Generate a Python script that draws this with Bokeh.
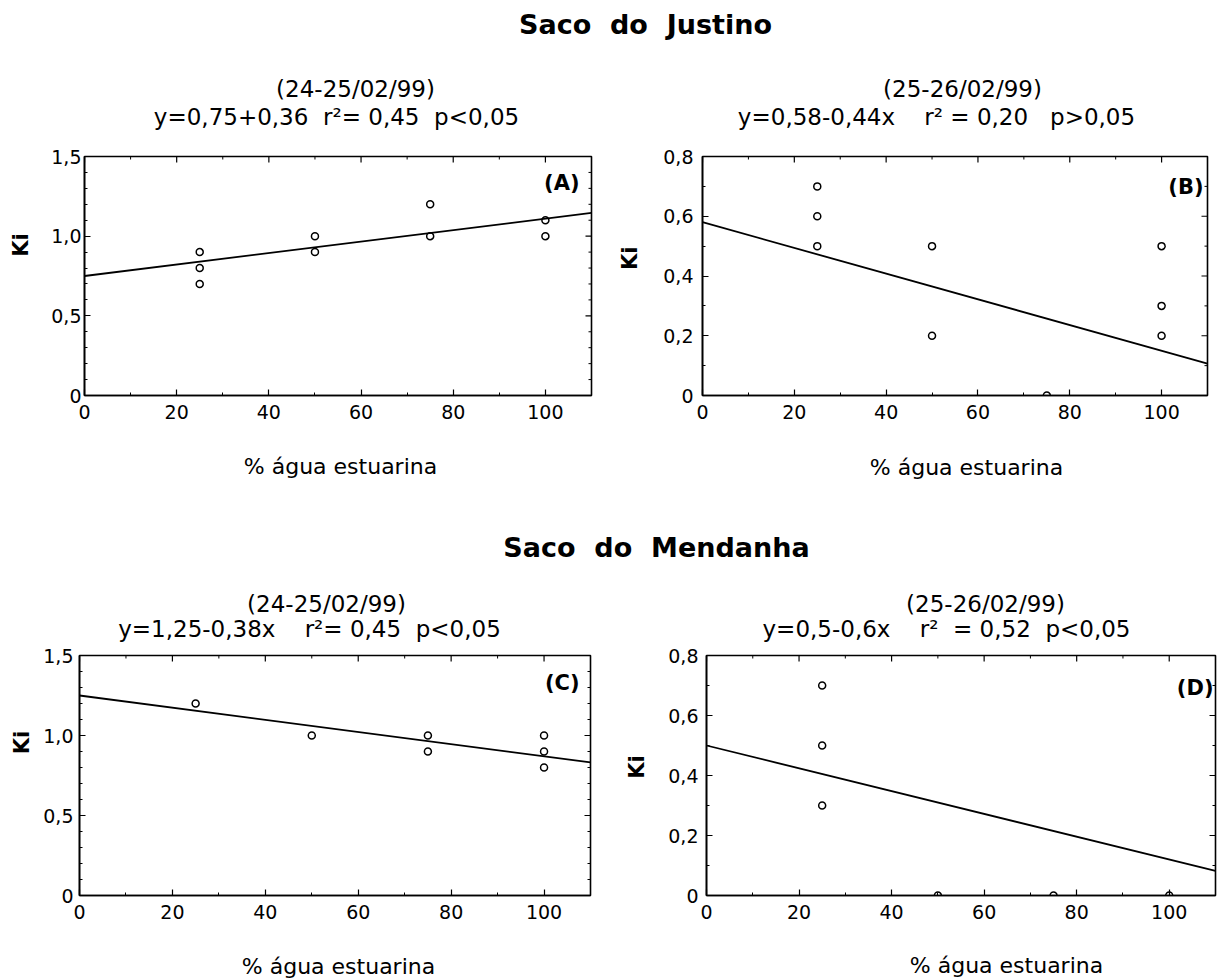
import math
from bokeh.plotting import figure
from bokeh.models import Range1d, FixedTicker, Label, CustomJSTickFormatter
from bokeh.layouts import column, row
from bokeh.embed import file_html
from bokeh.resources import INLINE

NB = "\u00a0"
FONT = "DejaVu Sans"

# ---------------- data ----------------
site_titles = ["Saco" + NB * 2 + "do" + NB * 2 + "Justino", "Saco" + NB * 2 + "do" + NB * 2 + "Mendanha"]
dates = ["(24-25/02/99)", "(25-26/02/99)", "(24-25/02/99)", "(25-26/02/99)"]
equations = [
    "y=0,75+0,36" + NB * 2 + "r²=" + NB + "0,45" + NB * 2 + "p<0,05",
    "y=0,58-0,44x" + NB * 4 + "r²" + NB + "=" + NB + "0,20" + NB * 3 + "p>0,05",
    "y=1,25-0,38x" + NB * 4 + "r²=" + NB + "0,45" + NB * 2 + "p<0,05",
    "y=0,5-0,6x" + NB * 4 + "r²" + NB * 2 + "=" + NB + "0,52" + NB * 2 + "p<0,05",
]
panel_tags = ["(A)", "(B)", "(C)", "(D)"]
x_title = "% água estuarina"
y_title = "Ki"

pct_A = [25, 25, 25, 50, 50, 75, 75, 100, 100]
ki_A = [0.9, 0.8, 0.7, 1.0, 0.9, 1.2, 1.0, 1.1, 1.0]
pct_B = [25, 25, 25, 50, 50, 75, 100, 100, 100]
ki_B = [0.7, 0.6, 0.5, 0.5, 0.2, 0.0, 0.5, 0.3, 0.2]
pct_C = [25, 50, 75, 75, 100, 100, 100]
ki_C = [1.2, 1.0, 1.0, 0.9, 1.0, 0.9, 0.8]
pct_D = [25, 25, 25, 50, 75, 100]
ki_D = [0.7, 0.5, 0.3, 0.0, 0.0, 0.0]

fit_intercept = [0.75, 0.58, 1.25, 0.50]
fit_slope = [0.0036, -0.0043, -0.0038, -0.0038]

x_ticks = [0, 20, 40, 60, 80, 100]
x_minor = [10, 30, 50, 70, 90, 110]
y_ticks_a = [0, 0.5, 1.0, 1.5]
y_minor_a = [0.1, 0.2, 0.3, 0.4, 0.6, 0.7, 0.8, 0.9, 1.1, 1.2, 1.3, 1.4]
y_ticks_b = [0, 0.2, 0.4, 0.6, 0.8]
y_minor_b = [0.1, 0.3, 0.5, 0.7]
x_max = 110

comma_fmt = CustomJSTickFormatter(code="""
    if (Math.abs(tick) < 1e-9) { return "0"; }
    return tick.toFixed(1).replace(".", ",");
""")


def style_axis(ax, standoff):
    ax.axis_line_color = "black"
    ax.axis_line_width = 1.6
    ax.major_tick_line_color = "black"
    ax.minor_tick_line_color = "black"
    ax.major_tick_line_width = 1.2
    ax.minor_tick_line_width = 1.0
    ax.major_tick_in = 6
    ax.major_tick_out = 0
    ax.minor_tick_in = 3
    ax.minor_tick_out = 0
    ax.major_label_text_font = FONT
    ax.major_label_text_color = "black"
    ax.major_label_text_font_size = "19px"
    ax.major_label_standoff = standoff


def text_fig(width, height):
    p = figure(width=width, height=height, x_range=Range1d(0, width), y_range=Range1d(0, height),
               output_backend="svg", toolbar_location=None, x_axis_type=None, y_axis_type=None,
               min_border=0)
    p.outline_line_color = None
    p.grid.visible = False
    return p


def put(p, text, x, y_from_top, size, bold=False, angle=0.0):
    p.add_layout(Label(x=x, y=p.y_range.end - y_from_top, text=text, text_font=FONT,
                       text_font_size=size, text_font_style="bold" if bold else "normal",
                       text_color="black", text_align="center", text_baseline="middle",
                       angle=angle))


def panel(i, xs, ys, ymax, yticks, yminor, width, height, borders, ystandoff, tag_pos):
    mbl, mbr, mbt, mbb = borders
    p = figure(width=width, height=height, x_range=Range1d(0, x_max), y_range=Range1d(0, ymax),
               output_backend="svg", toolbar_location=None,
               min_border_left=mbl, min_border_right=mbr, min_border_top=mbt, min_border_bottom=mbb)
    p.grid.visible = False
    p.outline_line_color = "black"
    p.outline_line_width = 1.6
    p.xaxis.ticker = FixedTicker(ticks=x_ticks, minor_ticks=x_ticks + x_minor)
    p.yaxis.ticker = FixedTicker(ticks=yticks, minor_ticks=yticks + yminor)
    p.yaxis.formatter = comma_fmt
    style_axis(p.xaxis[0], 9)
    style_axis(p.yaxis[0], ystandoff)

    # mirrored inward ticks on top and right edges (half of each dash is clipped by the frame)
    p.scatter(x_ticks, [ymax] * len(x_ticks), marker="dash", size=12, angle=math.pi / 2,
              line_color="black", line_width=1.2)
    p.scatter(x_minor, [ymax] * len(x_minor), marker="dash", size=6, angle=math.pi / 2,
              line_color="black", line_width=1.0)
    p.scatter([x_max] * len(yticks), yticks, marker="dash", size=12,
              line_color="black", line_width=1.2)
    p.scatter([x_max] * len(yminor), yminor, marker="dash", size=6,
              line_color="black", line_width=1.0)

    xl = [0, x_max]
    yl = [fit_intercept[i] + fit_slope[i] * v for v in xl]
    p.line(xl, yl, line_color="black", line_width=1.8)
    p.scatter(xs, ys, marker="circle", size=7, fill_color=None, line_color="black", line_width=1.5)

    dx, dy = tag_pos
    p.add_layout(Label(x=x_max, y=ymax, x_offset=-dx, y_offset=-dy, text=panel_tags[i],
                       text_font=FONT, text_font_size="21px", text_font_style="bold",
                       text_color="black", text_align="right", text_baseline="middle"))
    return p


# ---- band 1 : page y 0..140 ----
band1 = text_fig(1218, 140)
put(band1, site_titles[0], 645, 24, "27px", bold=True)
put(band1, dates[0], 355, 88, "23px")
put(band1, equations[0], 336, 116, "23px")
put(band1, dates[1], 962, 88, "23px")
put(band1, equations[1], 936, 116, "23px")

# ---- row 1 : page y 140..445 ----
kiA = text_fig(40, 305)
put(kiA, y_title, 20, 113, "21px", bold=True, angle=math.pi / 2)
pA = panel(0, pct_A, ki_A, 1.5, y_ticks_a, y_minor_a, 560, 305, (44, 9, 16, 38), 3, (12, 26))
kiB = text_fig(48, 305)
put(kiB, y_title, 29, 130, "21px", bold=True, angle=math.pi / 2)
pB = panel(1, pct_B, ki_B, 0.8, y_ticks_b, y_minor_b, 570, 305, (54, 11, 13, 50), 9, (4, 30))

# ---- band 2 : page y 445..645 ----
band2 = text_fig(1218, 200)
put(band2, x_title, 340, 21, "22px")
put(band2, x_title, 966, 22, "22px")
put(band2, site_titles[1], 656, 102, "27px", bold=True)
put(band2, dates[2], 326, 158, "23px")
put(band2, equations[2], 309, 183, "23px")
put(band2, dates[3], 985, 158, "23px")
put(band2, equations[3], 946, 183, "23px")

# ---- row 2 : page y 645..940 ----
kiC = text_fig(40, 295)
put(kiC, y_title, 21, 107, "21px", bold=True, angle=math.pi / 2)
pC = panel(2, pct_C, ki_C, 1.5, y_ticks_a, y_minor_a, 560, 295, (38, 10, 10, 33), 6, (11, 27))
kiD = text_fig(48, 295)
put(kiD, y_title, 36, 137, "21px", bold=True, angle=math.pi / 2)
pD = panel(3, pct_D, ki_D, 0.8, y_ticks_b, y_minor_b, 570, 295, (58, 3, 8, 45), 8, (2, 32))

# ---- band 3 : page y 940..980 ----
band3 = text_fig(1218, 40)
put(band3, x_title, 338, 26, "22px")
put(band3, x_title, 1006, 25, "22px")

layout = column(band1, row(kiA, pA, kiB, pB), band2, row(kiC, pC, kiD, pD), band3)

with open("out.html", "w") as f:
    f.write(file_html(layout, INLINE))
